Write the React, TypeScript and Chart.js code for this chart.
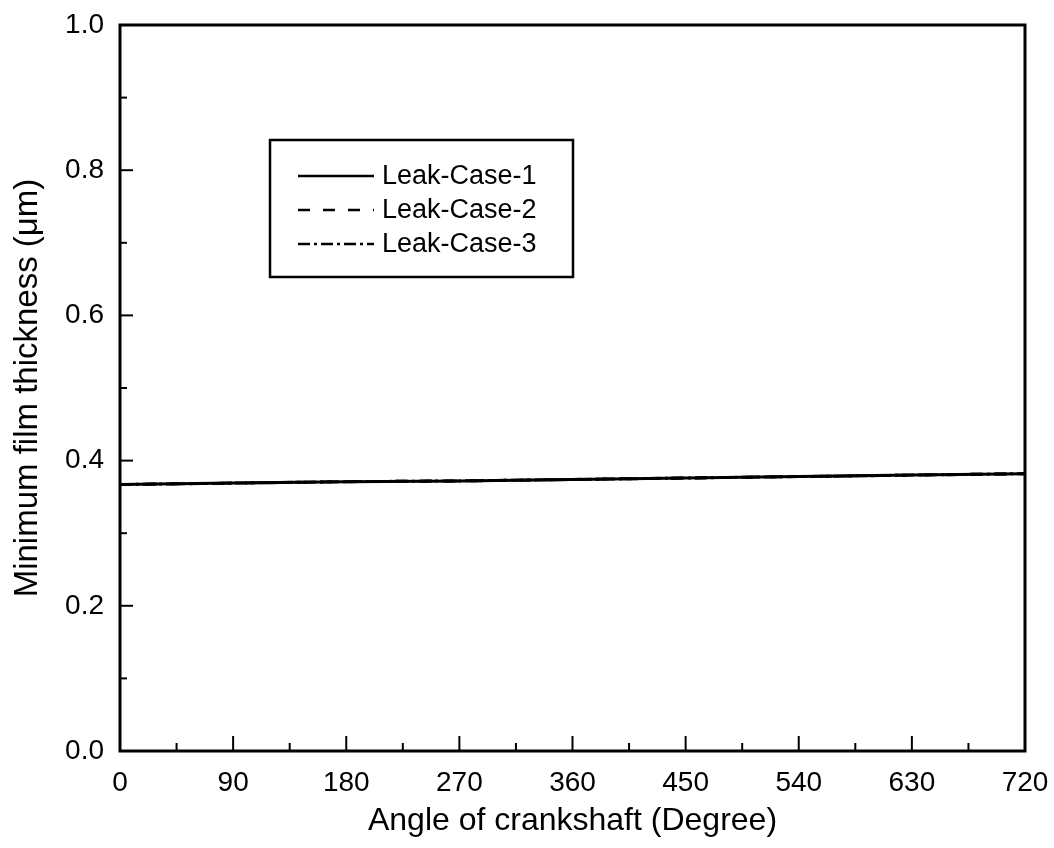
import React, { useEffect, useRef } from "react";
import { Chart, registerables } from "chart.js";

Chart.register(...registerables);

const angles = [0, 90, 180, 270, 360, 450, 540, 630, 720];
const case1 = [0.367, 0.369, 0.371, 0.372, 0.374, 0.376, 0.378, 0.38, 0.382];
const case2 = [0.367, 0.369, 0.371, 0.372, 0.374, 0.376, 0.378, 0.38, 0.382];
const case3 = [0.367, 0.369, 0.371, 0.372, 0.374, 0.376, 0.378, 0.38, 0.382];
const seriesLabels = ["Leak-Case-1", "Leak-Case-2", "Leak-Case-3"];
const xTitle = "Angle of crankshaft (Degree)";
const yTitle = "Minimum film thickness (\u03bcm)";

const FONT = "'Liberation Sans', Arial, Helvetica, sans-serif";

const framePlugin = {
  id: "frameAndTicks",
  afterDatasetsDraw(chart: any) {
    const { ctx, chartArea } = chart;
    const { left, right, top, bottom } = chartArea;
    const xs = chart.scales.x;
    const ys = chart.scales.y;
    ctx.save();
    ctx.strokeStyle = "#000";
    ctx.lineWidth = 2;
    for (let v = 0; v <= 720; v += 45) {
      const px = xs.getPixelForValue(v);
      const len = v % 90 === 0 ? 15 : 8;
      ctx.beginPath();
      ctx.moveTo(px, bottom);
      ctx.lineTo(px, bottom - len);
      ctx.stroke();
    }
    for (let i = 0; i <= 10; i++) {
      const v = i / 10;
      const py = ys.getPixelForValue(v);
      const len = i % 2 === 0 ? 13 : 7;
      ctx.beginPath();
      ctx.moveTo(left, py);
      ctx.lineTo(left + len, py);
      ctx.stroke();
    }
    ctx.lineWidth = 3;
    ctx.strokeRect(left, top, right - left, bottom - top);

    // legend box
    const lx = 270, ly = 140, lw = 303, lh = 137;
    ctx.lineWidth = 2.5;
    ctx.fillStyle = "#fff";
    ctx.fillRect(lx, ly, lw, lh);
    ctx.strokeRect(lx, ly, lw, lh);
    const rows = [176, 210, 244];
    chart.data.datasets.forEach((ds: any, i: number) => {
      const y = rows[i];
      ctx.save();
      ctx.lineWidth = 2.5;
      ctx.setLineDash(ds.borderDash || []);
      ctx.beginPath();
      ctx.moveTo(298, y);
      ctx.lineTo(374, y);
      ctx.stroke();
      ctx.restore();
      ctx.fillStyle = "#000";
      ctx.font = `27px ${FONT}`;
      ctx.textBaseline = "middle";
      ctx.textAlign = "left";
      ctx.fillText(ds.label, 382, y + 1);
    });
    ctx.restore();
  },
};

export default function App() {
  const ref = useRef<HTMLCanvasElement | null>(null);
  useEffect(() => {
    if (!ref.current) return;
    const chart = new Chart(ref.current, {
      type: "line",
      data: {
        datasets: [
          {
            label: seriesLabels[0],
            data: angles.map((a, i) => ({ x: a, y: case1[i] })),
            borderColor: "#000",
            borderWidth: 3,
            pointRadius: 0,
            borderDash: [],
          },
          {
            label: seriesLabels[1],
            data: angles.map((a, i) => ({ x: a, y: case2[i] })),
            borderColor: "#000",
            borderWidth: 3,
            pointRadius: 0,
            borderDash: [12, 13],
          },
          {
            label: seriesLabels[2],
            data: angles.map((a, i) => ({ x: a, y: case3[i] })),
            borderColor: "#000",
            borderWidth: 3,
            pointRadius: 0,
            borderDash: [12, 4, 3, 4],
          },
        ],
      },
      options: {
        animation: false,
        responsive: false,
        maintainAspectRatio: false,
        layout: { padding: { left: 0, right: 29, top: 25, bottom: 0 } },
        plugins: { legend: { display: false }, tooltip: { enabled: false } },
        scales: {
          x: {
            type: "linear",
            min: 0,
            max: 720,
            border: { display: false },
            grid: { display: false, drawTicks: false, tickLength: 0 },
            ticks: {
              stepSize: 90,
              padding: 15,
              color: "#000",
              font: { family: FONT, size: 28 },
              maxRotation: 0,
            },
            title: {
              display: true,
              text: xTitle,
              color: "#000",
              font: { family: FONT, size: 32 },
              padding: { top: 0, bottom: 8 },
            },
            afterFit(scale: any) {
              scale.height = 97;
              scale.paddingLeft = 0;
              scale.paddingRight = 0;
            },
          },
          y: {
            type: "linear",
            min: 0,
            max: 1,
            border: { display: false },
            grid: { display: false, drawTicks: false, tickLength: 0 },
            ticks: {
              stepSize: 0.2,
              padding: 16,
              color: "#000",
              font: { family: FONT, size: 28 },
              callback: (v: any) => Number(v).toFixed(1),
            },
            title: {
              display: true,
              text: yTitle,
              color: "#000",
              font: { family: FONT, size: 33 },
              padding: { top: 8, bottom: 0 },
            },
            afterFit(scale: any) {
              scale.width = 120;
              scale.paddingTop = 0;
              scale.paddingBottom = 0;
            },
          },
        },
      },
      plugins: [framePlugin],
    });
    return () => chart.destroy();
  }, []);
  return (
    <div style={{ position: "fixed", left: 0, top: 0, width: 1054, height: 848, background: "#fff" }}>
      <canvas ref={ref} width={1054} height={848} style={{ width: 1054, height: 848, display: "block" }} />
    </div>
  );
}
